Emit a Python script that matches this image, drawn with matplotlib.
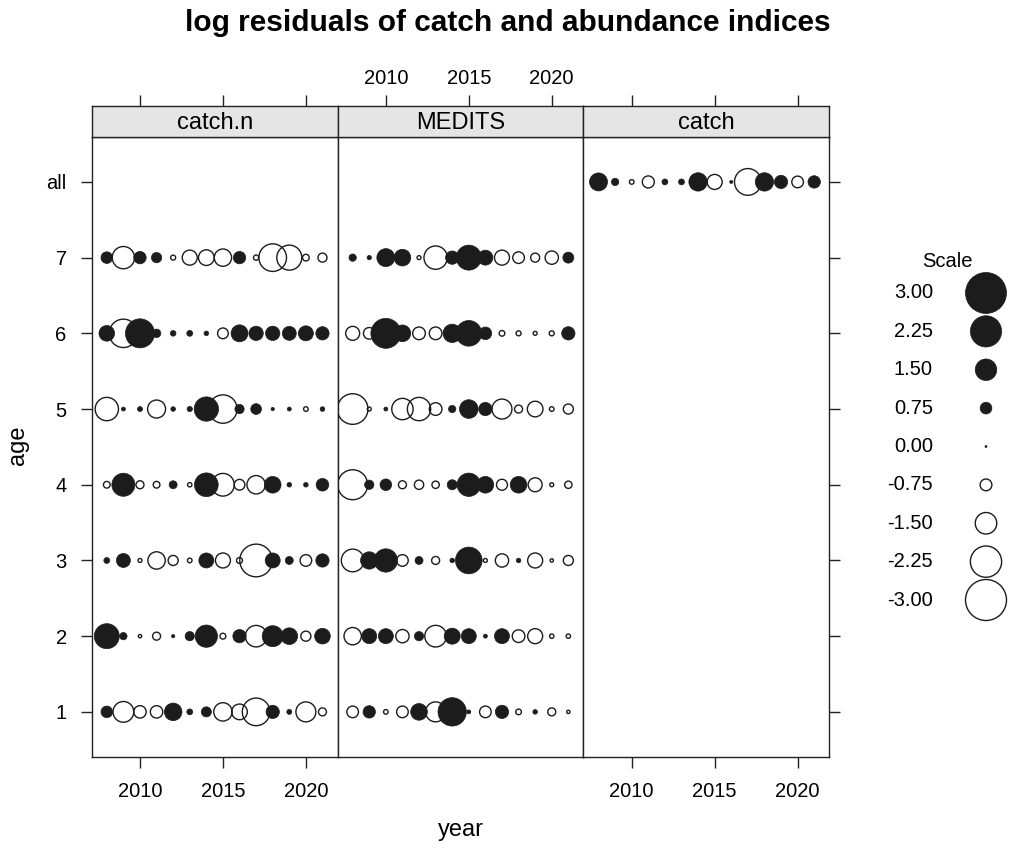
import numpy as np
import matplotlib
matplotlib.use("Agg")
import matplotlib.pyplot as plt

plt.rcParams['font.family'] = ['Liberation Sans', 'DejaVu Sans']

years = list(range(2008, 2022))
age_labels = ['1', '2', '3', '4', '5', '6', '7', 'all']
panels = ['catch.n', 'MEDITS', 'catch']

# log residuals, one list per age (2008..2021)
catchn_1 = [0.74, -1.44, -0.8, -0.8, 1.2, 0.3, 0.62, -1.26, -1.05, -1.97, 0.87, 0.23, -1.38, -0.46]
catchn_2 = [1.77, 0.41, -0.1, -0.46, 0.1, 0.56, 1.56, -0.3, 0.87, -1.5, 1.46, 1.13, -0.62, 1.05]
catchn_3 = [0.3, 0.92, -0.15, -1.18, -0.62, -0.2, 1.0, -1.0, -0.3, -2.36, 1.0, 0.46, -0.74, 0.87]
catchn_4 = [-0.36, 1.62, -0.46, -0.36, 0.46, -0.18, 1.67, -1.59, -0.67, -1.26, 1.13, 0.2, 0.2, 0.82]
catchn_5 = [-1.64, 0.15, 0.23, -1.23, 0.2, 0.25, 1.72, -2.03, 0.56, 0.67, 0.1, 0.15, -0.2, 0.2]
catchn_6 = [1.05, -2.03, 2.08, 0.5, 0.28, 0.3, 0.2, -0.67, 1.15, 0.95, 0.95, 0.92, 1.0, 0.87]
catchn_7 = [0.74, -1.56, 0.8, 0.64, -0.23, -1.0, -1.05, -1.18, 0.8, -0.25, -1.97, -1.77, -0.36, -0.54]

medits_1 = [-0.74, 0.8, -0.2, -0.74, 1.13, -1.38, 2.03, 0.15, -0.74, 0.87, -0.28, 0.2, -0.46, -0.1]
medits_2 = [-1.18, 1.0, 1.0, -0.87, 0.56, -1.51, 1.08, 1.0, 0.15, 1.0, -0.82, -1.0, -0.18, -0.18]
medits_3 = [-1.59, 1.18, 1.64, -0.74, 0.46, -0.46, 0.2, 1.9, -0.15, -0.87, 0.2, -1.0, -0.1, -0.62]
medits_4 = [-2.15, 0.56, 0.74, -0.46, -0.56, -0.41, 0.62, 1.64, 1.13, -0.69, 1.13, -0.92, -0.15, -0.41]
medits_5 = [-2.2, -0.15, 0.15, -1.49, -1.64, -0.82, 0.41, 1.28, 0.87, -1.38, -0.46, -1.05, -0.2, -0.62]
medits_6 = [-0.92, -0.74, 2.15, 1.13, -0.82, -0.82, 1.26, 1.82, 0.82, -0.28, -0.23, -0.15, -0.23, 0.87]
medits_7 = [0.41, 0.18, 1.23, 1.13, -0.15, -1.64, 0.87, 1.77, 1.0, -1.0, -0.74, -0.54, -0.87, 0.69]

catch_all = [1.23, 0.41, -0.2, -0.77, 0.3, 0.3, 1.26, -1.0, 0.08, -1.9, 1.26, 0.87, -0.74, 0.8]

scale_vals = [3.00, 2.25, 1.50, 0.75, 0.00, -0.75, -1.50, -2.25, -3.00]

data = {
    'catch.n': {1: catchn_1, 2: catchn_2, 3: catchn_3, 4: catchn_4, 5: catchn_5, 6: catchn_6, 7: catchn_7},
    'MEDITS': {1: medits_1, 2: medits_2, 3: medits_3, 4: medits_4, 5: medits_5, 6: medits_6, 7: medits_7},
    'catch': {8: catch_all},
}

FILL = '#1c1c1c'
EDGE = '#222222'
W, H = 1010, 848
TXT = 14.5


def bubble_size(v):
    # radius in px grows linearly with |v|; scatter wants (diameter in pt)^2
    r = 1.0 + 6.5 * np.abs(np.asarray(v, dtype=float))
    return (2 * r * 72 / 100) ** 2


def draw_bubbles(ax, x, y, v):
    v = np.asarray(v, dtype=float)
    x = np.asarray(x, dtype=float)
    y = np.asarray(y, dtype=float)
    neg = v < 0
    pos = ~neg
    ax.scatter(x[neg], y[neg], s=bubble_size(v[neg]), facecolors='none',
               edgecolors=FILL, linewidths=1.0, zorder=3)
    ax.scatter(x[pos], y[pos], s=bubble_size(v[pos]), facecolors=FILL,
               edgecolors=FILL, linewidths=0.5, zorder=3)


fig = plt.figure(figsize=(W / 100, H / 100), dpi=100)

left_px, right_px = 91.7, 829.3
top_px, bot_px = 136.5, 757.3
strip_top = 106.0
pw = (right_px - left_px) / 3
xlim = (2008 - 0.91, 2021 + 0.91)
tick_kw = dict(length=8, width=1.0, color=EDGE, labelsize=TXT, pad=10)

for i, name in enumerate(panels):
    x0 = left_px + i * pw
    ax = fig.add_axes([x0 / W, 1 - bot_px / H, pw / W, (bot_px - top_px) / H])
    for age, vals in data[name].items():
        draw_bubbles(ax, years, [age] * len(years), vals)
    ax.set_xlim(*xlim)
    ax.set_ylim(0.4, 8.6)
    ax.set_xticks([2010, 2015, 2020])
    ax.set_yticks(range(1, 9))
    ax.set_yticklabels(age_labels)
    for sp in ax.spines.values():
        sp.set_linewidth(1.0)
        sp.set_color(EDGE)

    if i == 1:
        ax.tick_params(axis='x', top=False, bottom=False, labeltop=False, labelbottom=False)
    else:
        ax.tick_params(axis='x', top=False, bottom=True, labeltop=False, labelbottom=True, **tick_kw)
    if i == 0:
        ax.tick_params(axis='y', left=True, right=False, labelleft=True, labelright=False, **tick_kw)
    elif i == 2:
        ax.tick_params(axis='y', left=False, right=True, labelleft=False, labelright=False, **tick_kw)
    else:
        ax.tick_params(axis='y', left=False, right=False, labelleft=False)

    # strip, carrying the top ticks
    sax = fig.add_axes([x0 / W, 1 - top_px / H, pw / W, (top_px - strip_top) / H])
    sax.set_facecolor('#e5e5e5')
    sax.set_xlim(*xlim)
    sax.set_xticks([2010, 2015, 2020])
    sax.set_yticks([])
    top_kw = dict(tick_kw, pad=5)
    sax.tick_params(axis='x', top=True, bottom=False, labeltop=(i == 1), labelbottom=False, **top_kw)
    for sp in sax.spines.values():
        sp.set_linewidth(1.0)
        sp.set_color(EDGE)
    sax.text(0.5, 0.45, name, ha='center', va='center', fontsize=17, transform=sax.transAxes)

fig.text(18 / W, 1 - 445 / H, 'age', rotation=90, ha='center', va='center', fontsize=17)
fig.text((left_px + right_px) / 2 / W, 1 - 830 / H, 'year', ha='center', va='center', fontsize=17)
fig.suptitle('log residuals of catch and abundance indices', x=0.503, y=1 - 23 / H,
             va='center', fontsize=21.5, fontweight='bold')

# bubble scale key
lax = fig.add_axes([880 / W, 1 - 619.2 / H, 130 / W, (619.2 - 273.8) / H])
lax.set_xlim(880, 1010)
lax.set_ylim(len(scale_vals) - 0.5, -0.5)
lax.axis('off')
rows = np.arange(len(scale_vals))
draw_bubbles(lax, [986] * len(scale_vals), rows, scale_vals)
for r, v in zip(rows, scale_vals):
    lax.text(933, r, f'{v:.2f}', ha='right', va='center', fontsize=TXT)
lax.text(947, -0.83, 'Scale', ha='center', va='center', fontsize=14.5)
for c in lax.collections:
    c.set_clip_on(False)

fig.savefig('out.png', dpi=100)
